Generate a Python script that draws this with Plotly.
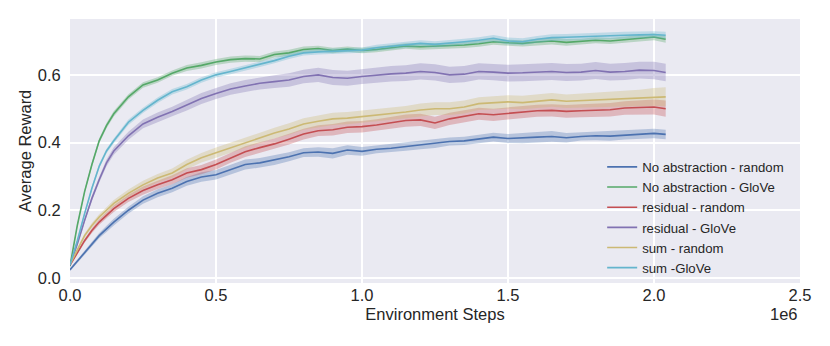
import plotly.graph_objects as go

# Environment steps (in units of 1e6)
steps = [0, 0.025, 0.05, 0.075, 0.1, 0.125, 0.15, 0.2, 0.25, 0.3, 0.35, 0.4, 0.45, 0.5,
         0.55, 0.6, 0.65, 0.7, 0.75, 0.8, 0.85, 0.9, 0.95, 1.0, 1.05, 1.1, 1.15, 1.2,
         1.25, 1.3, 1.35, 1.4, 1.45, 1.5, 1.55, 1.6, 1.65, 1.7, 1.75, 1.8, 1.85, 1.9,
         1.95, 2.0, 2.04]

names = ["No abstraction - random", "No abstraction - GloVe", "residual - random",
         "residual - GloVe", "sum - random", "sum -GloVe"]
colors = ["#4C72B0", "#55A868", "#C44E52", "#8172B2", "#CCB974", "#64B5CD"]

no_abs_random = [0.024, 0.05, 0.075, 0.10, 0.125, 0.145, 0.165, 0.20, 0.23, 0.25, 0.265,
                 0.285, 0.298, 0.305, 0.32, 0.335, 0.34, 0.348, 0.358, 0.37, 0.372, 0.368,
                 0.378, 0.374, 0.38, 0.383, 0.388, 0.393, 0.397, 0.403, 0.405, 0.41, 0.416,
                 0.412, 0.413, 0.416, 0.418, 0.414, 0.418, 0.42, 0.419, 0.422, 0.425,
                 0.427, 0.424]
no_abs_glove = [0.035, 0.155, 0.255, 0.335, 0.405, 0.45, 0.485, 0.535, 0.57, 0.585, 0.605,
                0.62, 0.628, 0.638, 0.645, 0.648, 0.647, 0.66, 0.665, 0.675, 0.678, 0.672,
                0.676, 0.672, 0.675, 0.68, 0.685, 0.683, 0.684, 0.686, 0.688, 0.692, 0.698,
                0.695, 0.693, 0.697, 0.70, 0.696, 0.698, 0.702, 0.70, 0.704, 0.708, 0.712,
                0.705]
residual_random = [0.038, 0.075, 0.11, 0.14, 0.165, 0.185, 0.205, 0.235, 0.258, 0.275,
                   0.29, 0.31, 0.32, 0.335, 0.355, 0.373, 0.385, 0.396, 0.41, 0.425, 0.435,
                   0.438, 0.445, 0.447, 0.452, 0.458, 0.465, 0.467, 0.458, 0.47, 0.478,
                   0.485, 0.482, 0.486, 0.49, 0.494, 0.495, 0.492, 0.494, 0.496, 0.497,
                   0.502, 0.504, 0.505, 0.50]
residual_glove = [0.038, 0.10, 0.17, 0.235, 0.29, 0.34, 0.375, 0.42, 0.455, 0.475, 0.492,
                  0.51, 0.53, 0.545, 0.558, 0.567, 0.575, 0.58, 0.585, 0.595, 0.60, 0.592,
                  0.59, 0.595, 0.60, 0.603, 0.605, 0.61, 0.607, 0.60, 0.602, 0.61, 0.608,
                  0.605, 0.606, 0.608, 0.61, 0.607, 0.608, 0.613, 0.608, 0.61, 0.614, 0.613,
                  0.607]
sum_random = [0.04, 0.085, 0.125, 0.155, 0.18, 0.20, 0.22, 0.25, 0.275, 0.295, 0.31,
              0.335, 0.355, 0.37, 0.385, 0.40, 0.415, 0.428, 0.44, 0.455, 0.463, 0.47,
              0.472, 0.476, 0.48, 0.486, 0.49, 0.496, 0.50, 0.50, 0.505, 0.515, 0.518,
              0.52, 0.518, 0.522, 0.526, 0.522, 0.524, 0.525, 0.527, 0.53, 0.532, 0.535,
              0.535]
sum_glove = [0.038, 0.11, 0.19, 0.265, 0.33, 0.375, 0.405, 0.46, 0.495, 0.525, 0.55,
             0.565, 0.585, 0.60, 0.61, 0.62, 0.63, 0.642, 0.655, 0.665, 0.668, 0.67,
             0.672, 0.673, 0.68, 0.684, 0.69, 0.693, 0.69, 0.695, 0.698, 0.702, 0.708,
             0.70, 0.698, 0.705, 0.71, 0.711, 0.713, 0.714, 0.715, 0.717, 0.718, 0.719,
             0.717]

# half-width of the shaded band around each mean curve
spread_no_abs_random = [0.004, 0.005, 0.006, 0.007, 0.008, 0.009, 0.010, 0.010, 0.011,
                        0.012, 0.012, 0.013, 0.014, 0.014, 0.015, 0.015, 0.014, 0.014,
                        0.013, 0.013, 0.014, 0.015, 0.014, 0.013, 0.012, 0.012, 0.012,
                        0.013, 0.013, 0.012, 0.012, 0.012, 0.013, 0.013, 0.015, 0.016,
                        0.016, 0.014, 0.012, 0.013, 0.014, 0.013, 0.013, 0.014, 0.014]
spread_no_abs_glove = [0.004, 0.005, 0.006, 0.007, 0.007, 0.008, 0.008, 0.008, 0.008,
                       0.008, 0.008, 0.009, 0.009, 0.009, 0.009, 0.009, 0.009, 0.009,
                       0.009, 0.009, 0.008, 0.008, 0.008, 0.008, 0.008, 0.008, 0.008,
                       0.009, 0.009, 0.009, 0.009, 0.009, 0.009, 0.009, 0.009, 0.010,
                       0.010, 0.010, 0.009, 0.009, 0.009, 0.009, 0.009, 0.010, 0.010]
spread_residual_random = [0.004, 0.005, 0.006, 0.007, 0.008, 0.009, 0.010, 0.011, 0.012,
                          0.012, 0.013, 0.014, 0.014, 0.015, 0.015, 0.016, 0.016, 0.016,
                          0.016, 0.016, 0.016, 0.017, 0.017, 0.017, 0.017, 0.018, 0.018,
                          0.018, 0.018, 0.018, 0.018, 0.018, 0.018, 0.018, 0.018, 0.018,
                          0.018, 0.019, 0.019, 0.019, 0.020, 0.020, 0.021, 0.022, 0.024]
spread_residual_glove = [0.005, 0.006, 0.007, 0.008, 0.009, 0.010, 0.011, 0.012, 0.013,
                         0.014, 0.014, 0.015, 0.016, 0.016, 0.017, 0.018, 0.018, 0.019,
                         0.020, 0.020, 0.021, 0.022, 0.022, 0.022, 0.023, 0.023, 0.023,
                         0.024, 0.024, 0.024, 0.024, 0.024, 0.024, 0.025, 0.025, 0.025,
                         0.025, 0.025, 0.025, 0.025, 0.025, 0.025, 0.025, 0.026, 0.026]
spread_sum_random = [0.004, 0.005, 0.006, 0.007, 0.008, 0.009, 0.010, 0.011, 0.012,
                     0.012, 0.013, 0.014, 0.014, 0.015, 0.015, 0.016, 0.016, 0.016, 0.017,
                     0.017, 0.017, 0.018, 0.018, 0.018, 0.018, 0.018, 0.018, 0.019, 0.019,
                     0.019, 0.019, 0.019, 0.019, 0.020, 0.020, 0.020, 0.020, 0.020, 0.021,
                     0.021, 0.022, 0.023, 0.024, 0.026, 0.028]
spread_sum_glove = [0.004, 0.005, 0.006, 0.006, 0.007, 0.007, 0.007, 0.008, 0.008, 0.008,
                    0.008, 0.008, 0.008, 0.008, 0.008, 0.008, 0.008, 0.008, 0.008, 0.008,
                    0.008, 0.008, 0.008, 0.008, 0.009, 0.009, 0.009, 0.009, 0.009, 0.009,
                    0.009, 0.009, 0.010, 0.010, 0.010, 0.010, 0.010, 0.010, 0.010, 0.010,
                    0.010, 0.010, 0.010, 0.010, 0.010]

x_tick_vals = [0.0, 0.5, 1.0, 1.5, 2.0, 2.5]
x_tick_text = ["0.0", "0.5", "1.0", "1.5", "2.0", "2.5"]
y_tick_vals = [0.0, 0.2, 0.4, 0.6]
y_tick_text = ["0.0", "0.2", "0.4", "0.6"]

series = [no_abs_random, no_abs_glove, residual_random, residual_glove, sum_random, sum_glove]
spreads = [spread_no_abs_random, spread_no_abs_glove, spread_residual_random,
           spread_residual_glove, spread_sum_random, spread_sum_glove]


def rgba(hex_color, a):
    h = hex_color.lstrip("#")
    r, g, b = int(h[0:2], 16), int(h[2:4], 16), int(h[4:6], 16)
    return f"rgba({r},{g},{b},{a})"


fig = go.Figure()
for name, color, vals, sp in zip(names, colors, series, spreads):
    lower = [v - s for v, s in zip(vals, sp)]
    upper = [v + s for v, s in zip(vals, sp)]
    fig.add_trace(go.Scatter(x=steps, y=lower, mode="lines", line=dict(width=0),
                             showlegend=False, hoverinfo="skip"))
    fig.add_trace(go.Scatter(x=steps, y=upper, mode="lines", line=dict(width=0),
                             fill="tonexty", fillcolor=rgba(color, 0.33),
                             showlegend=False, hoverinfo="skip"))
    fig.add_trace(go.Scatter(x=steps, y=vals, mode="lines", name=name,
                             line=dict(color=color, width=1.6)))

font_family = "Liberation Sans, Arial, sans-serif"
text_color = "#262626"

fig.update_layout(
    width=830, height=346,
    margin=dict(l=62, r=38, t=11, b=71, autoexpand=False),
    paper_bgcolor="white",
    plot_bgcolor="#EAEAF2",
    font=dict(family=font_family, size=16.5, color=text_color),
    showlegend=True,
    legend=dict(x=0.729, y=0.497, xanchor="left", yanchor="top",
                bgcolor="rgba(0,0,0,0)", borderwidth=0, traceorder="normal",
                font=dict(size=13.2, color=text_color),
                tracegroupgap=0, itemwidth=30),
    xaxis=dict(range=[0, 2.5], tickvals=x_tick_vals, ticktext=x_tick_text,
               showgrid=True, gridcolor="white", gridwidth=1.5, zeroline=False,
               showline=False, ticks="", automargin=False,
               title=dict(text="Environment Steps", standoff=5,
                          font=dict(size=16.5, color=text_color))),
    yaxis=dict(range=[-0.015, 0.765], tickvals=y_tick_vals, ticktext=y_tick_text,
               showgrid=True, gridcolor="white", gridwidth=1.5, zeroline=False,
               showline=False, ticks="outside", ticklen=5, tickcolor="rgba(0,0,0,0)",
               automargin=False,
               title=dict(text="Average Reward", standoff=1,
                          font=dict(size=16.5, color=text_color))),
    annotations=[dict(text="1e6", xref="paper", yref="paper", x=1.0, y=-0.077,
                      xanchor="right", yanchor="top", showarrow=False,
                      font=dict(size=16.5, color=text_color))],
)

fig.write_html("out.html")
